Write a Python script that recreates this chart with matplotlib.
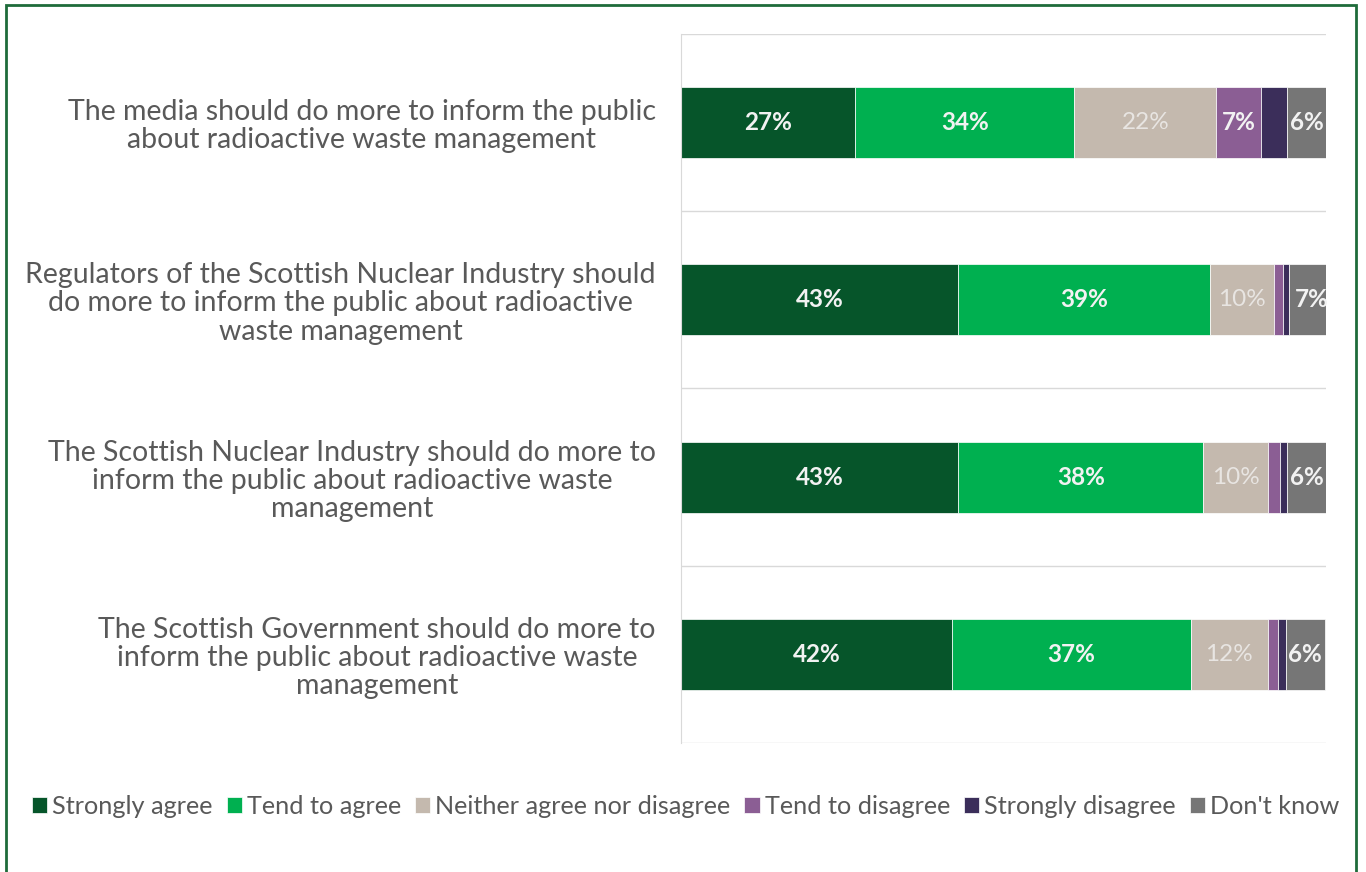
import numpy as np
import matplotlib.pyplot as plt
from matplotlib.patches import Rectangle

plt.rcParams['font.family'] = ['Lato', 'DejaVu Sans']

# statements, top to bottom
statements = [
    "The media should do more to inform the public\nabout radioactive waste management",
    "Regulators of the Scottish Nuclear Industry should\ndo more to inform the public about radioactive\nwaste management",
    "The Scottish Nuclear Industry should do more to\ninform the public about radioactive waste\nmanagement",
    "The Scottish Government should do more to\ninform the public about radioactive waste\nmanagement",
]

responses = ["Strongly agree", "Tend to agree", "Neither agree nor disagree",
             "Tend to disagree", "Strongly disagree", "Don't know"]

strongly_agree = [27, 43, 43, 42]
tend_agree = [34, 39, 38, 37]
neither = [22, 10, 10, 12]
tend_disagree = [7, 1.4, 1.9, 1.6]
strongly_disagree = [4, 0.9, 1.1, 1.2]
dont_know = [6, 7, 6, 6]

colors = ["#06552a", "#00b050", "#c4b9ae", "#8b5e94", "#3b2e5a", "#767676"]
label_colors = ["#f2f2f2", "#f2f2f2", "#e8e5e2", "#f2f2f2", "#f2f2f2", "#f2f2f2"]
label_weights = ["bold", "bold", "normal", "bold", "bold", "bold"]

series = [strongly_agree, tend_agree, neither, tend_disagree, strongly_disagree, dont_know]

fig = plt.figure(figsize=(13.66, 8.72), dpi=100)
ax = fig.add_axes([0.4985, 0.148, 0.4722, 0.813])

y = np.arange(len(statements))
left = np.zeros(len(statements))
for vals, name, col, lc, lw in zip(series, responses, colors, label_colors, label_weights):
    vals = np.array(vals, dtype=float)
    ax.barh(y, vals, left=left, height=0.4, color=col, label=name,
            edgecolor='white', linewidth=0.5)
    for yi, (l, v) in enumerate(zip(left, vals)):
        if v >= 5:
            ax.text(l + v / 2, yi, f"{round(v)}%", ha='center', va='center',
                    color=lc, fontsize=17.5, fontweight=lw)
    left += vals

ax.set_xlim(0, 100)
ax.set_ylim(len(statements) - 0.5, -0.5)
ax.set_yticks(y)
ax.set_yticklabels(statements, fontsize=20.5, color='#595959',
                   linespacing=1.1, ha='right', multialignment='center')
ax.tick_params(axis='y', length=0, pad=18)
ax.set_xticks([])

# category separator lines
for b in np.arange(-0.5, len(statements), 1.0):
    ax.axhline(b, color='#d9d9d9', linewidth=1)
for s in ['top', 'right', 'bottom']:
    ax.spines[s].set_visible(False)
ax.spines['left'].set_color('#d9d9d9')

fig.legend(loc='center', bbox_to_anchor=(0.502, 0.075), ncol=6, frameon=False,
           fontsize=18.2, handlelength=0.6, handleheight=0.6, handletextpad=0.2,
           columnspacing=0.55, labelcolor='#595959')

fig.patches.append(Rectangle((0.0045, -0.01), 0.988, 1.004, transform=fig.transFigure,
                             fill=False, edgecolor='#1e6b3a', linewidth=2))

fig.savefig("out.png", dpi=100)
